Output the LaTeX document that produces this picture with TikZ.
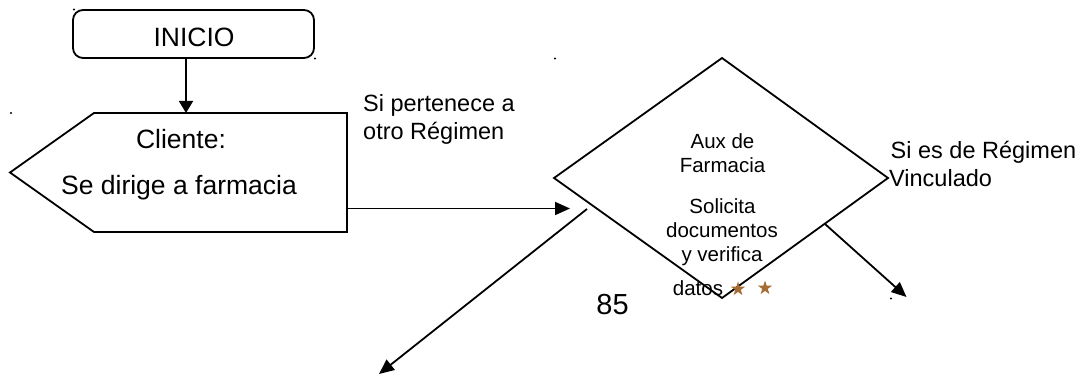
\documentclass[tikz,border=0pt]{standalone}
\usepackage{fontspec}
\setmainfont{Liberation Sans}
\usetikzlibrary{arrows.meta,shapes.geometric}
\definecolor{starbrown}{RGB}{166,108,52}
\begin{document}
\begin{tikzpicture}[x=1pt,y=-1pt,
  line/.style={line width=1.8pt, line join=miter},
  flow/.style={line, -{Triangle[length=15pt,width=13pt]}},
  bigtxt/.style={font=\fontsize{26.5}{30}\selectfont, inner sep=0pt},
  dectxt/.style={font=\fontsize{20.5}{24}\selectfont, inner sep=0pt},
  lbltxt/.style={font=\fontsize{23.5}{28}\selectfont, inner sep=0pt},
  startstyle/.style={draw, line, rounded corners=10pt, minimum width=241pt, minimum height=48pt, inner sep=0pt},
  starmark/.style={star, star points=5, star point ratio=2.6, fill=starbrown, inner sep=0pt, minimum size=15pt},
  speck/.style={fill=black}]
\useasboundingbox (0,0) rectangle (1085,374);

% start terminal
\node[startstyle] (inicio) at (193.5,34) {};
\node[bigtxt, anchor=base] (inicioTxt) at (194,46.5) {INICIO};

% client step (left-pointing pentagon)
\coordinate (pTip) at (10,172.5);
\coordinate (pTL) at (94,113);
\coordinate (pTR) at (347,113);
\coordinate (pBR) at (347,232);
\coordinate (pBL) at (94,232);
\draw[line] (pTip) -- (pTL) -- (pTR) -- (pBR) -- (pBL) -- cycle;
\node[bigtxt, anchor=base] (cliente) at (181,148.3) {Cliente:};
\node[bigtxt, anchor=base] (dirige) at (179,194.3) {Se dirige a farmacia};

% decision diamond
\coordinate (dT) at (722,58);
\coordinate (dR) at (888,178);
\coordinate (dB) at (722,298);
\coordinate (dL) at (554,178);
\draw[line] (dT) -- (dR) -- (dB) -- (dL) -- cycle;
\node[dectxt, anchor=base] (aux) at (722.5,148.3) {Aux de};
\node[dectxt, anchor=base] (farm) at (722.5,173) {Farmacia};
\node[dectxt, anchor=base] (solic) at (722.5,213.3) {Solicita};
\node[dectxt, anchor=base] (docs) at (722,237.7) {documentos};
\node[dectxt, anchor=base] (verif) at (722,261.5) {y verifica};
\node[dectxt, anchor=base west] (datos) at (672.7,296) {datos};
\node[starmark] (star1) at (738,289) {};
\node[starmark] (star2) at (765,288) {};

% branch labels
\node[lbltxt, anchor=base west] (otro1) at (363,111.7) {Si pertenece a};
\node[lbltxt, anchor=base west] (otro2) at (363,139.3) {otro Régimen};
\node[lbltxt, anchor=base west] (vinc1) at (890.5,159) {Si es de Régimen};
\node[lbltxt, anchor=base west] (vinc2) at (889,186.7) {Vinculado};

% page number
\node[font=\fontsize{29}{32}\selectfont, inner sep=0pt, anchor=base] (pagenum) at (612.5,315) {85};

% connectors
\coordinate (inicioOut) at (186,58);
\coordinate (clienteIn) at (186,113);
\draw[line, -{Triangle[length=12pt,width=14pt]}] (inicioOut) -- (clienteIn);

\coordinate (clienteOut) at (347,208.5);
\coordinate (decIn) at (570,208.5);
\draw[flow] (clienteOut) -- (decIn);

\coordinate (otroFrom) at (587,209);
\coordinate (otroTo) at (379,374);
\draw[flow] (otroFrom) -- (otroTo);

\coordinate (vincFrom) at (825,224);
\coordinate (vincTo) at (906.5,297);
\draw[flow] (vincFrom) -- (vincTo);

% stray specks
\fill[speck] (74,9.5) circle (1.1pt);
\fill[speck] (315,58.5) circle (1.1pt);
\fill[speck] (11,113) circle (1.1pt);
\fill[speck] (555,58.5) circle (1.1pt);
\fill[speck] (891,298.5) circle (1.1pt);
\end{tikzpicture}
\end{document}
